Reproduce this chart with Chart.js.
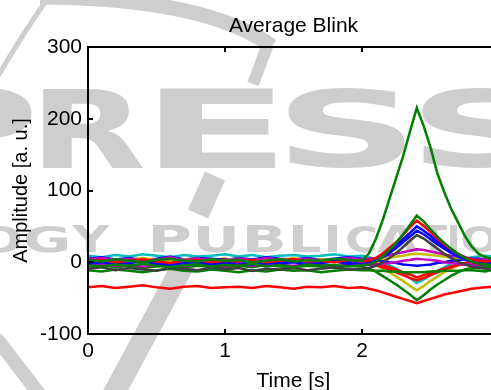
<!DOCTYPE html>
<html>
<head>
<meta charset="utf-8">
<title>Average Blink</title>
<script src="https://cdn.jsdelivr.net/npm/chart.js@4.4.1/dist/chart.umd.min.js"></script>
<style>
    html, body { margin: 0; padding: 0; background: #fff; overflow: hidden; }
    #wrap { width: 491px; height: 390px; overflow: hidden; }
    canvas { display: block; }
</style>
</head>
<body>
<div id="wrap"><canvas id="blinkChart" width="520" height="390"></canvas></div>
<script>
// time axis [s] - coarse before the blink, finer around it
const timeS = [0, 0.1, 0.2, 0.3, 0.4, 0.5, 0.6, 0.7, 0.8, 0.9, 1.0, 1.1, 1.2, 1.3, 1.4, 1.5, 1.6, 1.7, 1.8, 1.9, 2.0,
    2.05, 2.1, 2.15, 2.2, 2.25, 2.3, 2.35, 2.4, 2.45, 2.5, 2.55, 2.6, 2.65, 2.7, 2.75, 2.8, 2.85, 2.9, 2.95, 3.0];

// averaged blink per channel, amplitude [a. u.]
const green1 = [3, 1, 4, 2, 0, 3, 5, 2, 1, 4, 2, 3, 0, 2, 4, 1, 3, 2, 5, 3, 2,
    12, 32, 58, 88, 118, 148, 182, 215, 190, 160, 124, 98, 75, 56, 37, 22, 12, 7, 5, 4];
const green2 = [-4, -6, -3, -5, -2, -5, -7, -4, -3, -6, -4, -5, -2, -6, -4, -7, -3, -5, -4, -6, -4,
    -3, 1, 8, 17, 27, 39, 52, 65, 57, 46, 36, 27, 19, 12, 6, 1, -2, -3, -4, -4];
const red1 = [1, 3, 0, 2, 4, 1, -1, 2, 3, 0, 2, 1, 3, 0, 2, 4, 1, 2, 0, 3, 1,
    2, 6, 12, 20, 28, 38, 49, 58, 51, 42, 33, 25, 18, 12, 7, 4, 2, 1, 2, 1];
const blue1 = [0, 2, -1, 1, 3, 0, -2, 1, 2, -1, 0, 2, -1, 1, 0, 2, -1, 1, 3, 0, 1,
    1, 4, 9, 16, 24, 32, 41, 50, 44, 37, 29, 22, 16, 11, 7, 4, 2, 1, 0, 1];
const blue2 = [-2, 0, -3, -1, 1, -2, -4, -1, 0, -3, -2, 0, -3, -1, -2, 0, -3, -1, 1, -2, -1,
    -1, 2, 7, 13, 20, 28, 36, 44, 39, 32, 25, 19, 13, 8, 4, 1, -1, -2, -2, -1];
const gray1 = [-9, -7, -11, -8, -10, -12, -8, -9, -11, -7, -10, -8, -12, -9, -10, -8, -11, -9, -7, -10, -9,
    -8, -5, 0, 6, 13, 21, 30, 38, 33, 26, 19, 12, 6, 1, -3, -6, -8, -9, -10, -9];
const magenta1 = [4, 6, 3, 5, 2, 4, 7, 3, 5, 4, 2, 5, 3, 6, 4, 3, 5, 2, 4, 6, 4,
    5, 6, 8, 10, 12, 14, 16, 18, 17, 15, 13, 11, 9, 8, 6, 5, 4, 4, 5, 4];
const yellow1 = [3, 5, 2, 4, 6, 3, 1, 4, 5, 2, 3, 5, 2, 4, 3, 6, 2, 4, 3, 5, 3,
    3, 4, 5, 6, 8, 9, 11, 12, 11, 10, 9, 8, 7, 6, 5, 4, 3, 3, 4, 3];
const magenta2 = [-4, -2, -5, -3, -6, -4, -2, -5, -3, -4, -6, -3, -5, -2, -4, -5, -3, -4, -6, -3, -4,
    -4, -3, -2, -1, 0, 2, 3, 5, 4, 3, 2, 0, -1, -2, -3, -3, -4, -4, -3, -4];
const blue3 = [5, 7, 4, 6, 3, 5, 8, 4, 6, 5, 3, 6, 4, 7, 5, 4, 6, 3, 5, 7, 5,
    4, 3, 2, 0, -1, -3, -4, -5, -4, -3, -1, 0, 2, 3, 4, 5, 5, 4, 5, 5];
const green3 = [-11, -13, -10, -12, -14, -11, -9, -12, -13, -10, -12, -14, -11, -13, -10, -12, -11, -14, -12, -10, -11,
    -11, -12, -12, -13, -13, -14, -14, -14, -14, -13, -13, -12, -12, -12, -11, -11, -12, -13, -11, -12];
const red2 = [3, 1, 4, 2, 5, 3, 1, 4, 2, 3, 5, 2, 4, 1, 3, 2, 4, 3, 1, 3, 2,
    1, -1, -4, -7, -10, -14, -17, -21, -18, -15, -12, -9, -6, -3, -1, 1, 2, 3, 2, 3];
const red3 = [-1, 1, -2, 0, 2, -1, -3, 0, 1, -2, -1, 1, -2, 0, -1, 2, -2, 0, 1, -1, 0,
    -2, -4, -7, -10, -14, -18, -22, -25, -22, -18, -14, -10, -7, -4, -2, -1, 0, -1, 0, -1];
const cyan1 = [9, 7, 10, 8, 11, 9, 7, 10, 8, 9, 11, 8, 10, 7, 9, 10, 8, 9, 11, 8, 9,
    7, 4, 0, -4, -9, -15, -22, -29, -24, -18, -12, -7, -2, 2, 5, 7, 8, 9, 8, 9];
const yellow2 = [1, 3, 0, 2, 4, 1, -1, 2, 4, 1, 0, 3, 1, 2, 0, 3, 1, 2, 0, 2, 1,
    -1, -4, -9, -14, -20, -26, -33, -39, -33, -26, -20, -14, -9, -5, -2, 0, 1, 1, 2, 1];
const green4 = [-6, -4, -7, -5, -8, -6, -4, -7, -5, -6, -8, -5, -7, -4, -6, -7, -5, -6, -8, -5, -6,
    -9, -13, -19, -25, -31, -38, -45, -53, -46, -38, -31, -25, -19, -14, -10, -8, -7, -6, -7, -6];
const red4 = [-35, -33, -36, -34, -32, -35, -37, -34, -33, -36, -35, -34, -36, -33, -35, -37, -34, -35, -33, -36, -35,
    -37, -39, -42, -45, -48, -51, -54, -57, -54, -51, -48, -45, -43, -41, -39, -37, -36, -35, -34, -35];

const yTicks = [-100, 0, 100, 200, 300];
const xTicks = [0, 1, 2, 3];

// first one is drawn on top by Chart.js
const channels = [green1, green2, red1, blue1, blue2, gray1, magenta1, yellow1, magenta2,
    blue3, green3, red2, red3, cyan1, yellow2, green4, red4];
const channelColors = ['#008000', '#008000', '#ff0000', '#0000ff', '#0000ff', '#404040', '#bf00bf', '#bfbf00', '#bf00bf',
    '#0000ff', '#008000', '#ff0000', '#ff0000', '#00bfbf', '#bfbf00', '#008000', '#ff0000'];

const FONT = '"Liberation Sans", Arial, sans-serif';
const WM = '#cecece';

// SCITEPRESS watermark behind the figure
function fitLetters(ctx, letters, top, bottom) {
    ctx.font = 'bold 100px "DejaVu Sans"';
    ctx.textAlign = 'left';
    ctx.textBaseline = 'alphabetic';
    letters.forEach(([ch, left, right]) => {
        const m = ctx.measureText(ch);
        const gw = m.actualBoundingBoxLeft + m.actualBoundingBoxRight;
        const gh = m.actualBoundingBoxAscent + m.actualBoundingBoxDescent;
        ctx.save();
        ctx.translate(left, top);
        ctx.scale((right - left) / gw, (bottom - top) / gh);
        ctx.fillText(ch, m.actualBoundingBoxLeft, m.actualBoundingBoxAscent);
        ctx.restore();
    });
}

const watermark = {
    id: 'watermark',
    beforeDraw(chart) {
        const ctx = chart.ctx;
        ctx.save();
        ctx.fillStyle = WM;
        ctx.strokeStyle = WM;
        fitLetters(ctx, [['P', -80, 33], ['R', 43, 143], ['E', 160, 275], ['S', 288, 405], ['S', 422, 540]], 88, 168);
        fitLetters(ctx, [['O', -20, 20], ['G', 25, 67], ['Y', 72, 110], ['P', 153, 190], ['U', 198, 235],
            ['B', 247, 283], ['L', 293, 320], ['I', 328, 337], ['C', 347, 375], ['A', 377, 418],
            ['T', 420, 447], ['I', 450, 457], ['O', 462, 497], ['N', 505, 540]], 225, 252);

        ctx.lineCap = 'butt';
        ctx.lineWidth = 5;
        ctx.beginPath();
        ctx.moveTo(48, -2);
        ctx.quadraticCurveTo(22, 35, -2, 76);
        ctx.stroke();

        ctx.lineWidth = 15;
        ctx.beginPath();
        ctx.moveTo(40, -3);
        ctx.quadraticCurveTo(205, -2, 272, 46);
        ctx.stroke();
        ctx.lineWidth = 12;
        ctx.beginPath();
        ctx.moveTo(268, 44);
        ctx.lineTo(253, 84);
        ctx.stroke();

        ctx.lineWidth = 22;
        ctx.beginPath();
        ctx.moveTo(215, 176);
        ctx.lineTo(198, 214);
        ctx.moveTo(186, 260);
        ctx.lineTo(113, 395);
        ctx.stroke();

        ctx.lineWidth = 14;
        ctx.beginPath();
        ctx.moveTo(-4, 338);
        ctx.quadraticCurveTo(15, 362, 40, 395);
        ctx.stroke();
        ctx.restore();
    }
};

// MATLAB style box, inward ticks and labels
const matlabAxes = {
    id: 'matlabAxes',
    afterDatasetsDraw(chart) {
        const ctx = chart.ctx;
        const a = chart.chartArea;
        const xs = chart.scales.x, ys = chart.scales.y;
        ctx.save();
        ctx.strokeStyle = '#000';
        ctx.lineWidth = 2;
        ctx.strokeRect(a.left, a.top, a.right - a.left, a.bottom - a.top);
        ctx.beginPath();
        yTicks.forEach(v => {
            const py = Math.round(ys.getPixelForValue(v));
            ctx.moveTo(a.left, py);
            ctx.lineTo(a.left + 5, py);
        });
        xTicks.forEach(v => {
            const px = Math.round(xs.getPixelForValue(v));
            ctx.moveTo(px, a.bottom);
            ctx.lineTo(px, a.bottom - 5);
            ctx.moveTo(px, a.top);
            ctx.lineTo(px, a.top + 5);
        });
        ctx.stroke();

        ctx.fillStyle = '#000';
        ctx.textAlign = 'center';
        ctx.textBaseline = 'alphabetic';
        ctx.font = '21px ' + FONT;
        const cx = (a.left + a.right) / 2;
        ctx.fillText('Average Blink', cx, 32);
        ctx.fillText('Time [s]', cx, 387);
        ctx.font = '20px ' + FONT;
        ctx.translate(27, (a.top + a.bottom) / 2);
        ctx.rotate(-Math.PI / 2);
        ctx.fillText('Amplitude [a. u.]', 0, 0);
        ctx.restore();
    }
};

document.addEventListener('DOMContentLoaded', () => {
    const ctx = document.getElementById('blinkChart').getContext('2d');
    const datasets = channels.map((vals, i) => ({
        label: 'ch' + (i + 1),
        data: timeS.map((t, k) => ({ x: t, y: vals[k] })),
        borderColor: channelColors[i],
        borderWidth: 2.5,
        pointRadius: 0,
        tension: 0,
        fill: false
    }));

    new Chart(ctx, {
        type: 'line',
        data: { datasets },
        options: {
            responsive: false,
            animation: false,
            devicePixelRatio: 1,
            layout: { padding: { left: 0, top: 47, right: 21, bottom: 0 } },
            plugins: {
                legend: { display: false },
                tooltip: { enabled: false },
                title: { display: false }
            },
            scales: {
                x: {
                    type: 'linear',
                    min: 0,
                    max: 3,
                    afterFit: s => { s.height = 56; },
                    afterBuildTicks: s => { s.ticks = xTicks.map(v => ({ value: v })); },
                    grid: { display: false, drawTicks: false },
                    border: { display: false },
                    ticks: { color: '#000', padding: 5, maxRotation: 0, font: { family: FONT, size: 21 } }
                },
                y: {
                    min: -100,
                    max: 300,
                    afterFit: s => { s.width = 88; },
                    afterBuildTicks: s => { s.ticks = yTicks.map(v => ({ value: v })); },
                    grid: { display: false, drawTicks: false },
                    border: { display: false },
                    ticks: { color: '#000', padding: 6, font: { family: FONT, size: 21 } }
                }
            }
        },
        plugins: [watermark, matlabAxes]
    });
});
</script>
</body>
</html>
